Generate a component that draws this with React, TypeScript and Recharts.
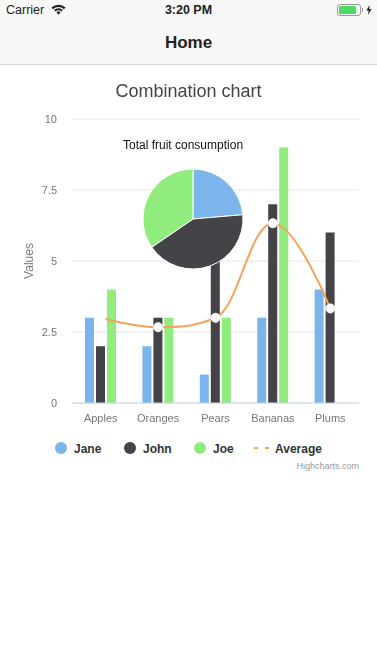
import {
  ComposedChart,
  PieChart,
  Pie,
  Bar,
  Line,
  Cell,
  XAxis,
  YAxis,
  CartesianGrid,
} from "recharts";

const FONT = '"Liberation Sans", Arial, sans-serif';

const categories = ["Apples", "Oranges", "Pears", "Bananas", "Plums"];
const jane = [3, 2, 1, 3, 4];
const john = [2, 3, 5, 7, 6];
const joe = [4, 3, 3, 9, 0];
const average = [3, 2.67, 3, 6.33, 3.33];
const yTicks = [0, 2.5, 5, 7.5, 10];

const pieNames = ["Jane", "John", "Joe"];
const pieValues = [13, 23, 19];
const pieColors = ["#7cb5ec", "#434348", "#90ed7d"];

const chartData = categories.map((name, i) => ({
  name,
  jane: jane[i],
  john: john[i],
  joe: joe[i],
  average: average[i],
}));
const pieData = pieNames.map((name, i) => ({ name, value: pieValues[i] }));

// same control point maths as a highcharts spline, recharts takes a d3 style curve
function highchartsSpline(context: any) {
  let pts: [number, number][] = [];
  return {
    areaStart() {},
    areaEnd() {},
    lineStart() {
      pts = [];
    },
    point(x: number, y: number) {
      pts.push([+x, +y]);
    },
    lineEnd() {
      const conts = pts.map(([x, y], i) => {
        const last = pts[i - 1];
        const next = pts[i + 1];
        if (!last || !next) return null;
        const lx = (1.5 * x + last[0]) / 2.5;
        let ly = (1.5 * y + last[1]) / 2.5;
        const rx = (1.5 * x + next[0]) / 2.5;
        let ry = (1.5 * y + next[1]) / 2.5;
        const corr = ((ry - ly) * (rx - x)) / (rx - lx) + y - ry;
        ly += corr;
        ry += corr;
        if (ly > last[1] && ly > y) {
          ly = Math.max(last[1], y);
          ry = 2 * y - ly;
        } else if (ly < last[1] && ly < y) {
          ly = Math.min(last[1], y);
          ry = 2 * y - ly;
        }
        if (ry > next[1] && ry > y) {
          ry = Math.max(next[1], y);
          ly = 2 * y - ry;
        } else if (ry < next[1] && ry < y) {
          ry = Math.min(next[1], y);
          ly = 2 * y - ry;
        }
        return { lx, ly, rx, ry };
      });
      pts.forEach(([x, y], i) => {
        if (i === 0) {
          context.moveTo(x, y);
          return;
        }
        const prev = conts[i - 1];
        const cur = conts[i];
        context.bezierCurveTo(
          prev ? prev.rx : pts[i - 1][0],
          prev ? prev.ry : pts[i - 1][1],
          cur ? cur.lx : x,
          cur ? cur.ly : y,
          x,
          y,
        );
      });
    },
  };
}

function StatusBar() {
  return (
    <div style={{ position: "absolute", left: 0, top: 0, width: 377, height: 20, fontSize: 12, color: "#222" }}>
      <span style={{ position: "absolute", left: 6, top: 3, fontSize: 12.5 }}>Carrier</span>
      <svg style={{ position: "absolute", left: 51, top: 4 }} width={15} height={11} viewBox="0 0 15 11">
        <path d="M0.5 3.6 A10 10 0 0 1 14.5 3.6 L13 5.2 A8 8 0 0 0 2 5.2 Z" fill="#222" />
        <path d="M3 6 A6.4 6.4 0 0 1 12 6 L10.5 7.6 A4.2 4.2 0 0 0 4.5 7.6 Z" fill="#222" />
        <path d="M5.4 8.4 A3 3 0 0 1 9.6 8.4 L7.5 10.8 Z" fill="#222" />
      </svg>
      <span style={{ position: "absolute", left: 0, width: 377, top: 3, textAlign: "center", fontWeight: 700, fontSize: 12.5 }}>
        3:20 PM
      </span>
      <div
        style={{
          position: "absolute",
          left: 337,
          top: 4,
          width: 24,
          height: 12,
          boxSizing: "border-box",
          border: "1px solid #999",
          borderRadius: 3,
          padding: 1,
        }}
      >
        <div style={{ width: 17, height: 8, background: "#4cd964", borderRadius: 1 }} />
      </div>
      <div style={{ position: "absolute", left: 362, top: 8, width: 1, height: 4, background: "#999" }} />
      <svg style={{ position: "absolute", left: 366, top: 5 }} width={6} height={10} viewBox="0 0 6 10">
        <path d="M3.6 0 L0.4 5.6 H2.6 L2 10 L5.6 4 H3.3 Z" fill="#222" />
      </svg>
    </div>
  );
}

function NavBar() {
  return (
    <div
      style={{
        position: "absolute",
        left: 0,
        top: 0,
        width: 377,
        height: 65,
        boxSizing: "border-box",
        background: "#f8f8f8",
        borderBottom: "1px solid #d8d8d8",
      }}
    >
      <div
        style={{
          position: "absolute",
          left: 0,
          width: 377,
          top: 33,
          textAlign: "center",
          fontSize: 17,
          fontWeight: 700,
          color: "#222",
        }}
      >
        Home
      </div>
    </div>
  );
}

const legendItems = [
  { name: "Jane", color: "#7cb5ec", x: 55, textX: 74 },
  { name: "John", color: "#434348", x: 124, textX: 143 },
  { name: "Joe", color: "#90ed7d", x: 194, textX: 213 },
];

function ChartLegend() {
  return (
    <div style={{ position: "absolute", left: 0, top: 440, width: 377, height: 18, fontSize: 12, fontWeight: 700, color: "#333" }}>
      {legendItems.map((item) => (
        <div key={item.name}>
          <div
            style={{
              position: "absolute",
              left: item.x,
              top: 2,
              width: 12,
              height: 12,
              borderRadius: 6,
              background: item.color,
            }}
          />
          <span style={{ position: "absolute", left: item.textX, top: 2 }}>{item.name}</span>
        </div>
      ))}
      <svg style={{ position: "absolute", left: 253, top: 2 }} width={20} height={12}>
        <line x1={1} x2={18} y1={6} y2={6} stroke="#f7a35c" strokeWidth={2} strokeDasharray="4 7" />
      </svg>
      <span style={{ position: "absolute", left: 275, top: 2 }}>Average</span>
    </div>
  );
}

export default function App() {
  return (
    <div
      style={{
        position: "absolute",
        left: 0,
        top: 0,
        width: 377,
        height: 671,
        background: "#fff",
        fontFamily: FONT,
        overflow: "hidden",
      }}
    >
      <NavBar />
      <StatusBar />
      <div
        style={{
          position: "absolute",
          left: 0,
          width: 377,
          top: 81,
          textAlign: "center",
          fontSize: 18,
          color: "#444",
          willChange: "transform",
        }}
      >
        Combination chart
      </div>

      {/* own layer so the tick text is not colour fringed */}
      <div style={{ position: "absolute", left: 0, top: 0, willChange: "transform" }}>
        <ComposedChart
          width={377}
          height={440}
          data={chartData}
          margin={{ top: 119, right: 18, bottom: 0, left: 0 }}
          barCategoryGap="22%"
          barGap={2}
        >
          <CartesianGrid vertical={false} stroke="#e6e6e6" />
          <XAxis
            dataKey="name"
            height={37}
            interval={0}
            tickLine={false}
            tickMargin={5}
            stroke="#ccd6eb"
            tick={{ fill: "#777", stroke: "none", fontSize: 11, fontFamily: FONT }}
          />
          <YAxis
            width={72}
            domain={[0, 10]}
            ticks={yTicks}
            axisLine={false}
            tickLine={false}
            tickMargin={15}
            tickSize={0}
            stroke="none"
            tick={{ fill: "#777", stroke: "none", fontSize: 11, fontFamily: FONT }}
            label={{
              value: "Values",
              angle: -90,
              position: "insideLeft",
              offset: 29,
              style: { fill: "#777", stroke: "none", fontSize: 12, fontFamily: FONT, textAnchor: "middle" },
            }}
          />
          <Bar dataKey="jane" barSize={9} fill="#7cb5ec" isAnimationActive={false} />
          <Bar dataKey="john" barSize={9} fill="#434348" isAnimationActive={false} />
          <Bar dataKey="joe" barSize={9} fill="#90ed7d" isAnimationActive={false} />
          <Line
            dataKey="average"
            type={highchartsSpline as any}
            stroke="#f7a35c"
            strokeWidth={2}
            dot={{ r: 4.5, fill: "#fff", stroke: "#fff", strokeWidth: 1 }}
            isAnimationActive={false}
          />
        </ComposedChart>
      </div>

      <div
        style={{
          position: "absolute",
          left: 123,
          width: 120,
          top: 138,
          textAlign: "center",
          fontSize: 12,
          color: "#111",
          whiteSpace: "nowrap",
          willChange: "transform",
        }}
      >
        Total fruit consumption
      </div>
      <div style={{ position: "absolute", left: 133, top: 159, willChange: "transform" }}>
        <PieChart width={120} height={120} margin={{ top: 0, right: 0, bottom: 0, left: 0 }}>
          <Pie
            data={pieData}
            dataKey="value"
            nameKey="name"
            cx={60}
            cy={60}
            outerRadius={50}
            startAngle={90}
            endAngle={-270}
            stroke="#fff"
            strokeWidth={1}
            isAnimationActive={false}
          >
            {pieData.map((_, i) => (
              <Cell key={i} fill={pieColors[i]} />
            ))}
          </Pie>
        </PieChart>
      </div>

      <ChartLegend />
      <div style={{ position: "absolute", right: 18, top: 461, fontSize: 9, color: "#999" }}>Highcharts.com</div>
    </div>
  );
}
